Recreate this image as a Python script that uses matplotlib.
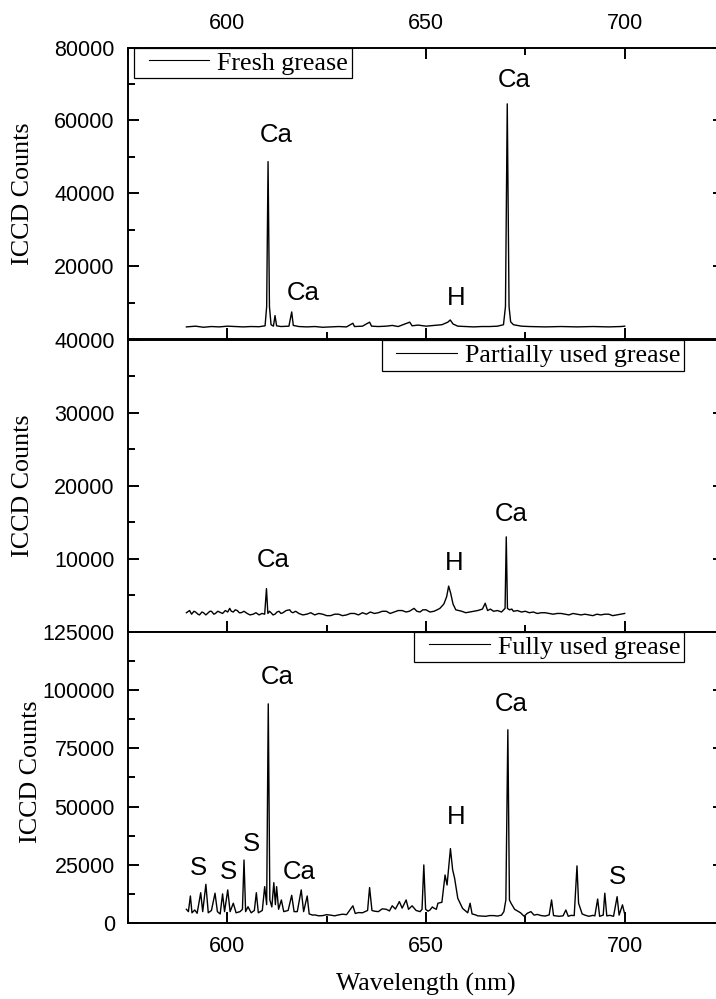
import matplotlib
matplotlib.use('Agg')
import matplotlib.pyplot as plt
from matplotlib.ticker import MultipleLocator
from matplotlib.legend_handler import HandlerLine2D

SANS = ['Liberation Sans', 'DejaVu Sans']
SERIF = ['Liberation Serif', 'DejaVu Serif']

# --- spectra (wavelength nm, ICCD counts) ---
fresh_wl = [589.7, 592, 594, 596, 598, 600, 602, 604, 606, 608, 609.5, 609.9, 610.25, 610.6,
            611.0, 611.6, 612.0, 612.4, 613.5, 615.5, 616.2, 616.6, 618, 620, 622, 624, 626,
            628, 630, 631.6, 632, 634, 635.8, 636.3, 638, 640, 641.5, 643, 645.9, 646.5, 648,
            650, 652, 654, 655.5, 656.1, 656.8, 658, 660, 662, 664, 666, 668, 669.5, 670.0,
            670.45, 670.9, 671.3, 672, 674, 676, 680, 684, 688, 692, 696, 699, 700]
fresh_counts = [3400, 3600, 3300, 3500, 3400, 3600, 3500, 3400, 3500, 3450, 3700, 9000, 48700, 9000,
                4000, 3600, 6500, 3700, 3500, 3600, 7500, 3800, 3500, 3400, 3500, 3300, 3400,
                3500, 3400, 4400, 3500, 3600, 4700, 3600, 3500, 3600, 3800, 3500, 4700, 3700, 3900,
                3600, 3800, 4000, 4700, 5300, 4200, 3600, 3500, 3400, 3500, 3500, 3600, 4000, 9000,
                64550, 9000, 4800, 4000, 3600, 3500, 3400, 3500, 3400, 3500, 3400, 3500, 3600]

partial_wl = [589.7, 590.5, 591, 591.6, 592, 592.6, 593, 593.6, 594, 594.6, 595, 595.6, 596, 596.6,
              597, 597.6, 598, 598.8, 599.5, 600.1, 600.6, 601.0, 601.5, 602.0, 602.5, 603.0, 603.5,
              604.2, 605, 605.7, 606.5, 607.2, 608, 608.7, 609.4, 609.85, 610.2, 610.6, 611, 611.5,
              612, 612.5, 613, 613.5, 614, 614.8, 615.7, 616.1, 616.5, 617.2, 618, 619, 620, 621,
              622, 623, 624, 625, 626, 627, 628, 629, 630, 631, 632, 633, 634, 635, 636, 637, 638,
              639, 640, 641, 642, 643, 644, 645, 645.8, 646.4, 647, 647.7, 648.5, 649.2, 650, 651,
              652, 652.8, 653.5, 654.5, 655.2, 655.7, 656.2, 656.8, 657.5, 658.2, 659, 660, 661,
              662, 663, 664.2, 664.9, 665.5, 666.2, 667, 668, 669, 669.9, 670.2, 670.5, 671, 671.6,
              672, 673, 674, 675, 676, 677, 678, 679, 680, 681, 682, 683, 684, 685, 686, 687, 688,
              689, 690, 691, 692, 693, 694, 695, 696, 697, 698, 699, 700]
partial_counts = [2600, 2900, 2400, 2800, 2700, 2400, 2300, 2700, 2600, 2300, 2500, 2800, 2800, 2400,
                  2500, 2800, 2700, 2500, 2900, 2700, 3200, 2800, 2700, 3000, 2900, 2600, 2600,
                  2800, 2500, 2300, 2400, 2600, 2300, 2500, 2400, 5900, 2500, 2800, 2600, 2300,
                  2400, 2700, 2800, 2500, 2600, 2900, 3000, 2700, 2600, 2800, 2500, 2300, 2400, 2600,
                  2300, 2500, 2400, 2200, 2200, 2400, 2400, 2200, 2300, 2500, 2500, 2300, 2600, 2400,
                  2700, 2500, 2600, 2800, 2800, 2500, 2700, 2900, 2900, 2700, 2800, 3000, 3200, 2800,
                  2700, 3000, 3000, 2700, 2800, 3000, 3200, 3800, 4800, 6250, 5300, 3800, 3000, 2900,
                  2800, 2600, 2700, 2800, 2900, 3100, 3900, 2900, 3100, 2800, 2900, 2700, 3200, 13000,
                  3200, 3000, 3100, 2800, 2900, 2700, 2800, 2600, 2700, 2500, 2600, 2600, 2500, 2400,
                  2500, 2500, 2400, 2300, 2500, 2400, 2300, 2400, 2300, 2200, 2400, 2300, 2400, 2400,
                  2200, 2300, 2400, 2500]

full_wl = [589.7, 590.2, 590.7, 591.1, 591.8, 592.4, 593.3, 593.8, 594.6, 595.2, 596.0, 596.9,
           597.5, 598.2, 598.8, 599.3, 600.1, 600.7, 601.5, 602.2, 603.2, 603.8, 604.2, 604.6,
           605.2, 606.0, 606.8, 607.3, 607.8, 608.8, 609.4, 609.9, 610.3, 610.7, 611.2, 611.7,
           612.1, 612.4, 612.9, 613.6, 614.2, 615.3, 616.2, 616.8, 617.6, 618.6, 619.2, 620.1,
           620.6, 621.5, 622, 623, 624, 625, 626, 627, 628, 629, 630, 631.6, 632.2, 633, 634,
           635.3, 635.8, 636.4, 637, 638, 639, 640, 640.8, 641.5, 642.3, 643.3, 644, 645, 645.6,
           646.5, 647.5, 648.5, 649.0, 649.45, 649.9, 650.5, 651, 651.6, 652, 652.6, 653, 654,
           654.8, 655.3, 656.15, 656.7, 657.2, 658.0, 659.2, 660.5, 661.1, 661.6, 662.5, 663,
           664, 665, 666, 667, 668, 669, 669.6, 670.1, 670.6, 671.0, 671.4, 672.3, 673.8, 674.7,
           675.5, 676.4, 677.2, 678, 679, 680, 681.0, 681.6, 682.1, 683.5, 684.5, 685.2, 685.8,
           686.5, 687.3, 688.0, 688.4, 689.3, 690, 691, 692, 692.5, 693.2, 693.7, 694.6, 695.0,
           695.5, 696.3, 697.2, 698.1, 698.6, 699.45, 700]
full_counts = [6000, 5000, 11700, 4500, 5700, 4300, 13100, 5000, 16700, 4500, 5500, 12900,
               5000, 4000, 12600, 5000, 14300, 5000, 8600, 4500, 5000, 6000, 27100, 5000,
               7100, 4500, 5500, 13100, 4500, 5500, 15700, 8000, 94000, 10000, 7000, 17400,
               8000, 15700, 6000, 10000, 5000, 5500, 12000, 5000, 5000, 14300, 5000, 11700,
               4000, 3500, 3600, 3200, 3300, 3700, 3500, 3200, 3600, 3900, 3700, 7500, 4200, 4600, 4500,
               5500, 15300, 5500, 5200, 5000, 6200, 6000, 5300, 7500, 6100, 9300, 6500, 10000, 6000,
               7500, 5500, 5000, 6000, 25000, 6000, 5200, 5700, 7000, 6500, 6000, 8600, 9000,
               20700, 16400, 32000, 23000, 19300, 10700, 6400, 4500, 8600, 4000, 3600, 3200,
               3100, 3000, 3300, 3300, 3100, 3500, 5000, 10000, 82900, 10000, 8600, 6000, 4500, 3000,
               4300, 5000, 3500, 3800, 3300, 3100, 3600, 10000, 3300, 3000, 3200, 5700, 3000,
               3400, 3300, 24600, 8600, 4000, 3500, 3000, 3400, 3200, 10400, 3000, 3500, 12900,
               3200, 3400, 3000, 11400, 3500, 7900, 4000]

# peak labels: (text, wavelength, counts)
fresh_labels = [('Ca', 612.4, 56000), ('Ca', 619.2, 12700), ('H', 657.6, 11200), ('Ca', 672.2, 71100)]
partial_labels = [('Ca', 611.5, 9800), ('H', 657.0, 9400), ('Ca', 671.4, 16200)]
full_labels = [('S', 592.7, 23600), ('S', 600.2, 22100), ('S', 606.1, 34000), ('Ca', 612.6, 105300),
               ('Ca', 618.2, 22100), ('H', 657.6, 45700), ('Ca', 671.4, 93900), ('S', 698.2, 20000)]

panels = [
    dict(wl=fresh_wl, counts=fresh_counts, labels=fresh_labels, name='Fresh grease',
         ylim=(0, 80000), yticks=[20000, 40000, 60000, 80000], minor=10000,
         legend_loc='upper left', legend_anchor=(0.01, 1.0), ylabel_x=-0.158),
    dict(wl=partial_wl, counts=partial_counts, labels=partial_labels, name='Partially used grease',
         ylim=(0, 40000), yticks=[10000, 20000, 30000, 40000], minor=5000,
         legend_loc='upper right', legend_anchor=(0.933, 1.0), ylabel_x=-0.158),
    dict(wl=full_wl, counts=full_counts, labels=full_labels, name='Fully used grease',
         ylim=(0, 125000), yticks=[0, 25000, 50000, 75000, 100000, 125000], minor=12500,
         legend_loc='upper right', legend_anchor=(0.933, 1.0), ylabel_x=-0.145),
]

fig = plt.figure(figsize=(7.16, 9.99), dpi=100)
left, width = 128 / 716, 596 / 716
bottoms = [1 - 339.3 / 999, 1 - 631.7 / 999, 1 - 923.3 / 999]
height = 291.8 / 999

for i, p in enumerate(panels):
    ax = fig.add_axes([left, bottoms[i], width, height])
    ax.plot(p['wl'], p['counts'], color='black', lw=1.0, label=p['name'])
    ax.set_xlim(575, 725)
    ax.set_ylim(*p['ylim'])
    ax.set_yticks(p['yticks'])
    ax.yaxis.set_minor_locator(MultipleLocator(p['minor']))
    ax.set_xticks([600, 650, 700])
    ax.xaxis.set_minor_locator(MultipleLocator(25))

    for s in ax.spines.values():
        s.set_linewidth(1.4)
    ax.tick_params(which='both', direction='in', width=1.4, right=True,
                   top=(i == 0), bottom=True, labeltop=(i == 0),
                   labelbottom=(i == 2), labelsize=15.5, pad=9.5)
    ax.tick_params(which='major', length=8)
    ax.tick_params(which='minor', length=5)
    for lab in ax.get_xticklabels() + ax.get_yticklabels():
        lab.set_family(SANS)

    ax.set_ylabel('ICCD Counts', family=SERIF, fontsize=18.7)
    ax.yaxis.set_label_coords(p['ylabel_x'], 0.5 if i < 2 else 0.52)

    for txt, x, y in p['labels']:
        ax.text(x, y, txt, family=SANS, fontsize=18.5, ha='center', va='center')

    leg = ax.legend(loc=p['legend_loc'], bbox_to_anchor=p['legend_anchor'],
                    borderaxespad=0, borderpad=0.15, handlelength=2.75, handletextpad=0.3,
                    fancybox=False, framealpha=1, edgecolor='black',
                    prop={'family': SERIF, 'size': 18.7},
                    handler_map={matplotlib.lines.Line2D: HandlerLine2D(xpad=0.42)})
    leg.get_frame().set_linewidth(0.9)
    leg.get_lines()[0].set_linewidth(0.8)

    if i == 2:
        ax.set_xlabel('Wavelength (nm)', family=SERIF, fontsize=18.6, labelpad=11)

fig.savefig('out.png', dpi=100)
